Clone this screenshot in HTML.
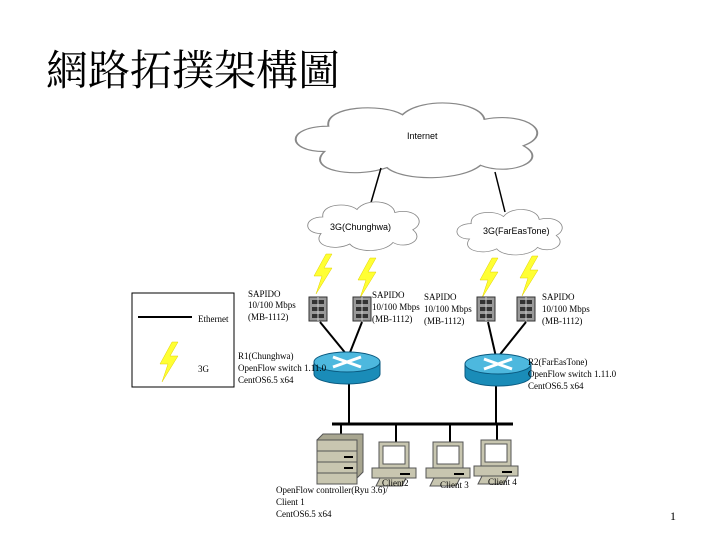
<!DOCTYPE html>
<html><head><meta charset="utf-8"><style>
body{margin:0;background:#fff;width:720px;height:540px;overflow:hidden;font-family:"Liberation Serif",serif}
</style></head><body>
<svg width="720" height="540" xmlns="http://www.w3.org/2000/svg" font-family="Liberation Serif, serif">
<text x="46" y="85" font-size="42" font-family="Liberation Serif, Noto Serif CJK SC, serif">網路拓撲架構圖</text>
<defs>
<g id="cloud"><path d="M-50,10 C-70,10 -70,-12 -48,-12 C-50,-30 -20,-32 -10,-22 C0,-38 30,-34 32,-18 C55,-25 68,-5 52,5 C66,18 45,32 30,22 C20,36 -10,36 -18,24 C-35,34 -60,26 -50,10 Z" fill="#fff" stroke="#888" stroke-width="1"/></g>
<g id="bolt"><polygon points="4,0 -8,22 0,22 -6,40 10,14 2,14 10,0" fill="#ffff33" stroke="#e0d000" stroke-width="0.5"/></g>
<g id="sw"><rect x="-9" y="-12" width="18" height="24" fill="#999" stroke="#333"/><rect x="-6" y="-9" width="12" height="4" fill="#333"/><rect x="-6" y="-2" width="12" height="4" fill="#333"/><rect x="-6" y="5" width="12" height="4" fill="#333"/><line x1="0" y1="-12" x2="0" y2="12" stroke="#ccc"/></g>
<g id="rt"><path d="M-33,0 v12 a33,10 0 0 0 66,0 v-12" fill="#1a8cb8" stroke="#0a5a80"/><ellipse cx="0" cy="0" rx="33" ry="10" fill="#4db8de" stroke="#0a5a80"/><path d="M-14,-5 L14,5 M-14,5 L14,-5" stroke="#fff" stroke-width="3"/></g>
<g id="pc"><rect x="-15" y="-24" width="30" height="26" fill="#c8c6b0" stroke="#555"/><rect x="-11" y="-20" width="22" height="18" fill="#fff" stroke="#555"/><path d="M-22,2 h44 v10 h-44z" fill="#c8c6b0" stroke="#555"/><line x1="6" y1="8" x2="16" y2="8" stroke="#000" stroke-width="2"/><path d="M-14,12 h26 l-4,8 h-26z" fill="#c8c6b0" stroke="#555"/></g>
</defs>
<g transform="translate(422,140) scale(1.95,1.15)"><use href="#cloud"/></g>
<text x="407" y="139" font-size="9" font-family="Liberation Sans, sans-serif">Internet</text>
<line x1="381" y1="168" x2="370" y2="206" stroke="#000" stroke-width="1.5"/>
<line x1="495" y1="172" x2="505" y2="212" stroke="#000" stroke-width="1.5"/>
<g transform="translate(366,226) scale(0.9,0.75)"><use href="#cloud"/></g>
<text x="330" y="230" font-size="9" font-family="Liberation Sans, sans-serif">3G(Chunghwa)</text>
<g transform="translate(512,232) scale(0.85,0.7)"><use href="#cloud"/></g>
<text x="483" y="234" font-size="9" font-family="Liberation Sans, sans-serif">3G(FarEasTone)</text>
<use href="#bolt" transform="translate(322,254)"/><use href="#bolt" transform="translate(366,258)"/>
<use href="#bolt" transform="translate(488,258)"/><use href="#bolt" transform="translate(528,256)"/>
<use href="#sw" transform="translate(318,309)"/><use href="#sw" transform="translate(362,309)"/>
<use href="#sw" transform="translate(486,309)"/><use href="#sw" transform="translate(526,309)"/>
<g stroke="#000" stroke-width="2"><line x1="320" y1="322" x2="347" y2="355"/><line x1="362" y1="322" x2="349" y2="355"/>
<line x1="488" y1="322" x2="496" y2="357"/><line x1="526" y1="322" x2="498" y2="357"/>
<line x1="349" y1="380" x2="349" y2="424"/><line x1="496" y1="382" x2="496" y2="424"/>
<line x1="332" y1="424" x2="513" y2="424" stroke-width="3"/>
<line x1="341" y1="424" x2="341" y2="440"/><line x1="396" y1="424" x2="396" y2="442"/><line x1="450" y1="424" x2="450" y2="442"/><line x1="497" y1="424" x2="497" y2="442"/></g>
<use href="#rt" transform="translate(347,362)"/><use href="#rt" transform="translate(498,364)"/>
<g transform="translate(317,440)"><path d="M0,0 l6,-6 h40 v38 l-6,6z" fill="#a8a690" stroke="#555"/><rect x="0" y="0" width="40" height="44" fill="#c8c6b0" stroke="#555"/><g stroke="#555"><line x1="0" y1="11" x2="40" y2="11"/><line x1="0" y1="22" x2="40" y2="22"/><line x1="0" y1="33" x2="40" y2="33"/></g><g stroke="#000" stroke-width="2"><line x1="27" y1="17" x2="36" y2="17"/><line x1="27" y1="28" x2="36" y2="28"/></g></g>
<use href="#pc" transform="translate(394,466)"/><use href="#pc" transform="translate(448,466)"/><use href="#pc" transform="translate(496,464)"/>
<g font-size="9">
<text x="248" y="297">SAPIDO</text><text x="248" y="308">10/100 Mbps</text><text x="248" y="320">(MB-1112)</text>
<text x="372" y="298">SAPIDO</text><text x="372" y="310">10/100 Mbps</text><text x="372" y="322">(MB-1112)</text>
<text x="424" y="300">SAPIDO</text><text x="424" y="312">10/100 Mbps</text><text x="424" y="324">(MB-1112)</text>
<text x="542" y="300">SAPIDO</text><text x="542" y="312">10/100 Mbps</text><text x="542" y="324">(MB-1112)</text>
<text x="238" y="359">R1(Chunghwa)</text><text x="238" y="371">OpenFlow switch 1.11.0</text><text x="238" y="383">CentOS6.5 x64</text>
<text x="528" y="365">R2(FarEasTone)</text><text x="528" y="377">OpenFlow switch 1.11.0</text><text x="528" y="389">CentOS6.5 x64</text>
<text x="382" y="486">Client2</text><text x="440" y="488">Client 3</text><text x="488" y="485">Client 4</text>
<text x="276" y="493">OpenFlow controller(Ryu 3.6)/</text><text x="276" y="505">Client 1</text><text x="276" y="517">CentOS6.5 x64</text>
<text x="198" y="322">Ethernet</text><text x="198" y="372">3G</text>
</g>
<rect x="132" y="293" width="102" height="94" fill="none" stroke="#000"/>
<line x1="138" y1="317" x2="192" y2="317" stroke="#000" stroke-width="2"/>
<use href="#bolt" transform="translate(168,342)"/>
<text x="670" y="520" font-size="12">1</text>
</svg>
</body></html>
